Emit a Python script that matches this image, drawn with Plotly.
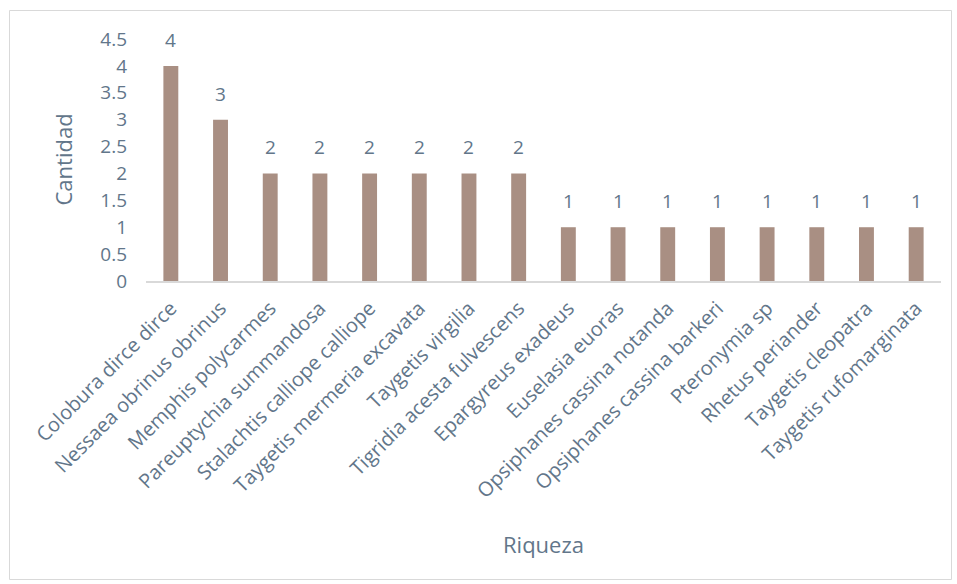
import plotly.graph_objects as go

especies = [
    "Colobura dirce dirce", "Nessaea obrinus obrinus", "Memphis polycarmes",
    "Pareuptychia summandosa", "Stalachtis calliope calliope",
    "Taygetis mermeria excavata", "Taygetis virgilia", "Tigridia acesta fulvescens",
    "Epargyreus exadeus", "Euselasia euoras", "Opsiphanes cassina notanda",
    "Opsiphanes cassina barkeri", "Pteronymia sp", "Rhetus periander",
    "Taygetis cleopatra", "Taygetis rufomarginata",
]
cantidad = [4, 3, 2, 2, 2, 2, 2, 2, 1, 1, 1, 1, 1, 1, 1, 1]

texto = "#62768A"
barra = "#A98F83"
fuente = "Open Sans, Noto Sans, sans-serif"

fig = go.Figure()
fig.add_trace(go.Bar(
    x=especies, y=cantidad, marker=dict(color=barra, line=dict(width=0)),
    width=0.3, showlegend=False,
))

# value labels above each bar
annots = [
    dict(x=e, y=v, xref="x", yref="y", text=str(v), showarrow=False,
         yshift=26, font=dict(family=fuente, size=19, color=texto))
    for e, v in zip(especies, cantidad)
]
annots.append(dict(x=-0.105, y=0.5, xref="paper", yref="paper", text="Cantidad",
                   textangle=-90, showarrow=False, xanchor="center", yanchor="middle",
                   font=dict(family=fuente, size=22, color=texto)))
annots.append(dict(x=0.5, y=-1.087, xref="paper", yref="paper", text="Riqueza",
                   showarrow=False, xanchor="center", yanchor="middle",
                   font=dict(family=fuente, size=22, color=texto)))

W, H = 957, 584
L, R, T, B = 146, 16, 39, 303
pw, ph = W - L - R, H - T - B

def px(x):
    return (x - L) / pw

def py(y):
    return (H - B - y) / ph

fig.update_layout(
    width=W, height=H,
    margin=dict(l=L, r=R, t=T, b=B, autoexpand=False),
    paper_bgcolor="white", plot_bgcolor="white",
    font=dict(family=fuente, color=texto),
    annotations=annots,
    shapes=[dict(type="rect", xref="paper", yref="paper",
                 x0=px(9.5), x1=px(951.5), y0=py(579.5), y1=py(10.5),
                 line=dict(color="#D9D9D9", width=1), layer="below")],
    xaxis=dict(tickangle=-45, showgrid=False, showline=True, linecolor="#D9D9D9",
               linewidth=1.5, ticks="", tickfont=dict(size=20, color=texto),
               ticklabelstandoff=6, automargin=False),
    yaxis=dict(range=[0, 4.5], dtick=0.5, showgrid=False, showline=False,
               zeroline=False, ticks="", tickfont=dict(size=19, color=texto),
               ticklabelstandoff=18, automargin=False),
)

fig.write_html("out.html")
